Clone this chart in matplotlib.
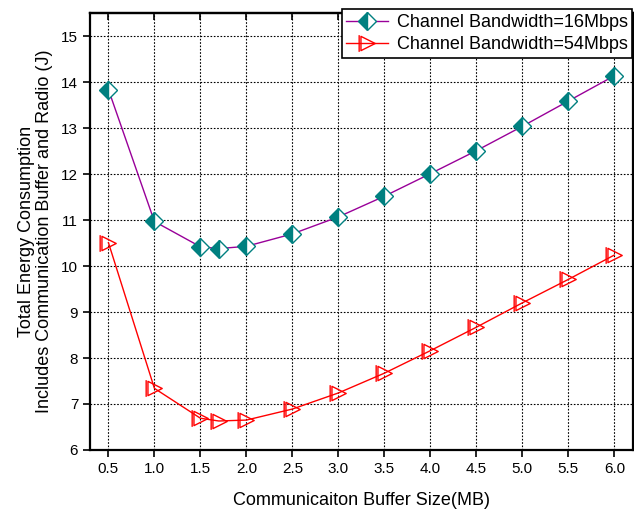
import matplotlib
matplotlib.use('Agg')
import matplotlib.pyplot as plt
from matplotlib.path import Path
import numpy as np

plt.rcParams['font.family'] = ['Liberation Sans', 'DejaVu Sans']

buffer_mb = [0.5, 1.0, 1.5, 1.7, 2.0, 2.5, 3.0, 3.5, 4.0, 4.5, 5.0, 5.5, 6.0]
energy_16 = [13.84, 10.97, 10.42, 10.38, 10.43, 10.70, 11.07, 11.52, 12.01, 12.51, 13.04, 13.59, 14.14]
energy_54 = [10.51, 7.34, 6.69, 6.63, 6.65, 6.89, 7.24, 7.67, 8.16, 8.67, 9.20, 9.71, 10.24]
xticks = [0.5, 1.0, 1.5, 2.0, 2.5, 3.0, 3.5, 4.0, 4.5, 5.0, 5.5, 6.0]
yticks = [6, 7, 8, 9, 10, 11, 12, 13, 14, 15]

# right triangle with a bar on its left side
tri_bar = Path([(-0.55, -0.6), (0.65, 0.0), (-0.55, 0.6), (-0.55, -0.6),
                (-0.7, -0.7), (-0.7, 0.7)],
               [Path.MOVETO, Path.LINETO, Path.LINETO, Path.CLOSEPOLY,
                Path.MOVETO, Path.LINETO])

fig = plt.figure(figsize=(6.34, 5.09), dpi=100)
ax = fig.add_axes([0.142, 0.116, 0.856, 0.858])

ax.plot(buffer_mb, energy_16, color='#990099', lw=1.0, marker='D', markersize=9,
        fillstyle='left', markerfacecolor='#008080', markerfacecoloralt='white',
        markeredgecolor='#008080', markeredgewidth=1.0,
        label='Channel Bandwidth=16Mbps', zorder=3)
ax.plot(buffer_mb, energy_54, color='#ff0000', lw=1.0, marker=tri_bar, markersize=12,
        markerfacecolor='none', markeredgecolor='#ff0000', markeredgewidth=1.0,
        label='Channel Bandwidth=54Mbps', zorder=3)

ax.set_xlim(0.3, 6.2)
ax.set_ylim(6, 15.5)
ax.set_xticks(xticks)
ax.set_xticklabels(['%.1f' % v for v in xticks])
ax.set_yticks(yticks)
ax.grid(True, color='black', linestyle=(0, (1.5, 1.5)), linewidth=0.8)
ax.set_axisbelow(True)

for s in ax.spines.values():
    s.set_linewidth(1.6)
ax.tick_params(axis='both', labelsize=11, width=1.2, length=5, direction='out')

# inward ticks along the top edge
top = ax.secondary_xaxis('top')
top.set_xticks(xticks)
top.tick_params(direction='in', length=5, width=1.2, labeltop=False)
top.spines['top'].set_linewidth(1.6)

ax.set_xlabel('Communicaiton Buffer Size(MB)', fontsize=13, labelpad=12)
ax.set_ylabel('Total Energy Consumption\nIncludes Communication Buffer and Radio (J)',
              fontsize=13, linespacing=1.1, labelpad=6)

leg = fig.legend(loc='upper right', bbox_to_anchor=(1.0, 0.985), fontsize=13,
                 frameon=True, fancybox=False, framealpha=1, edgecolor='black',
                 borderpad=0.25, handlelength=2.3, handletextpad=0.5,
                 labelspacing=0.3, borderaxespad=0.1)
leg.get_frame().set_linewidth(1.2)

fig.savefig('out.png', dpi=100)
